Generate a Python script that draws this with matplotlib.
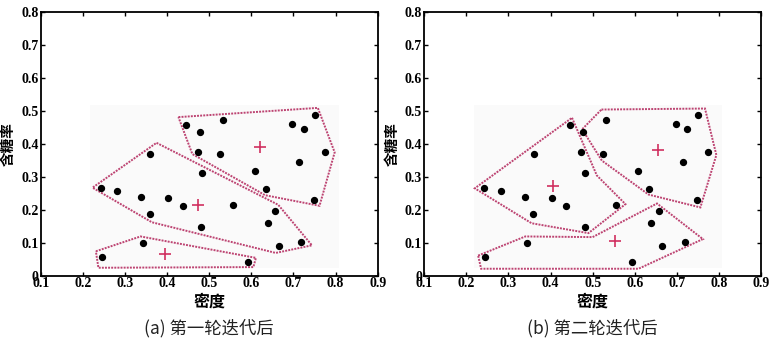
import numpy as np
import matplotlib
matplotlib.use('Agg')
import matplotlib.pyplot as plt
from matplotlib.patches import Polygon, Rectangle

plt.rcParams['font.family'] = ['Noto Sans CJK SC', 'DejaVu Sans']

# watermelon samples: density, sugar content
density = [0.697, 0.774, 0.634, 0.608, 0.556, 0.403, 0.481, 0.437, 0.666, 0.243,
           0.245, 0.343, 0.639, 0.657, 0.360, 0.593, 0.719, 0.359, 0.339, 0.282,
           0.748, 0.714, 0.483, 0.478, 0.525, 0.751, 0.532, 0.473, 0.725, 0.446]
sugar = [0.460, 0.376, 0.264, 0.318, 0.215, 0.237, 0.149, 0.211, 0.091, 0.267,
         0.057, 0.099, 0.161, 0.198, 0.370, 0.042, 0.103, 0.188, 0.241, 0.257,
         0.232, 0.346, 0.312, 0.437, 0.369, 0.489, 0.472, 0.376, 0.445, 0.459]

# cluster centres after each iteration
centers_1 = [(0.620, 0.390), (0.473, 0.215), (0.394, 0.067)]
centers_2 = [(0.655, 0.382), (0.407, 0.273), (0.554, 0.106)]

# hull outlines drawn around each cluster
hulls_1 = [
    [(0.427, 0.482), (0.758, 0.510), (0.798, 0.375), (0.762, 0.213), (0.633, 0.245), (0.460, 0.370)],
    [(0.375, 0.404), (0.664, 0.216), (0.744, 0.093), (0.658, 0.070), (0.364, 0.163), (0.223, 0.268)],
    [(0.231, 0.075), (0.337, 0.120), (0.611, 0.055), (0.605, 0.027), (0.237, 0.025)],
]
hulls_2 = [
    [(0.521, 0.505), (0.767, 0.508), (0.794, 0.367), (0.756, 0.208), (0.633, 0.247), (0.522, 0.350), (0.475, 0.445)],
    [(0.451, 0.480), (0.510, 0.305), (0.578, 0.218), (0.490, 0.130), (0.355, 0.160), (0.220, 0.266)],
    [(0.228, 0.062), (0.340, 0.120), (0.500, 0.118), (0.653, 0.220), (0.762, 0.112), (0.609, 0.022), (0.235, 0.022)],
]

captions = ['(a) 第一轮迭代后', '(b) 第二轮迭代后']
xticks = [0.1, 0.2, 0.3, 0.4, 0.5, 0.6, 0.7, 0.8, 0.9]
yticks = [0, 0.1, 0.2, 0.3, 0.4, 0.5, 0.6, 0.7, 0.8]
xtick_labels = ['0.1', '0.2', '0.3', '0.4', '0.5', '0.6', '0.7', '0.8', '0.9']
ytick_labels = ['0', '0.1', '0.2', '0.3', '0.4', '0.5', '0.6', '0.7', '0.8']

hull_color = '#bd4472'
tick_font = {'family': 'Liberation Serif', 'weight': 'bold', 'size': 10}

fig = plt.figure(figsize=(7.71, 3.47), dpi=100)
ax1 = fig.add_axes([0.0528, 0.2046, 0.437, 0.76])
ax2 = fig.add_axes([0.5503, 0.2046, 0.4367, 0.76])

for ax, centers, hulls, cap in [(ax1, centers_1, hulls_1, captions[0]),
                                (ax2, centers_2, hulls_2, captions[1])]:
    ax.add_patch(Rectangle((0.218, 0.025), 0.59, 0.495, facecolor='#fafafa',
                           edgecolor='none', zorder=0))
    for h in hulls:
        ax.add_patch(Polygon(h, closed=True, fill=False, edgecolor=hull_color,
                             linestyle=(0, (1, 0.6)), linewidth=1.4, zorder=2))
    ax.scatter(density, sugar, s=18, color='black', zorder=3)
    cx = [c[0] for c in centers]
    cy = [c[1] for c in centers]
    ax.scatter(cx, cy, marker='+', s=75, color='#d03060', linewidths=1.2, zorder=3)

    ax.set_xlim(0.1, 0.9)
    ax.set_ylim(0, 0.8)
    ax.set_xticks(xticks)
    ax.set_yticks(yticks)
    ax.set_xticklabels(xtick_labels, fontdict=tick_font)
    ax.set_yticklabels(ytick_labels, fontdict=tick_font)
    ax.tick_params(direction='in', top=True, right=True, length=3, width=1,
                   pad=1.5)
    ax.tick_params(axis='x', pad=0.5)
    for sp in ax.spines.values():
        sp.set_linewidth(1.3)

    ax.set_xlabel('密度', fontsize=11.5, fontweight='bold', labelpad=3)
    ax.set_ylabel('含糖率', fontsize=10.5, fontweight='bold', labelpad=4)
    ax.text(0.5, -0.198, cap, transform=ax.transAxes, ha='center', va='center',
            fontsize=12.5, color='#222222')

fig.savefig('out.png', dpi=100, facecolor='white')
